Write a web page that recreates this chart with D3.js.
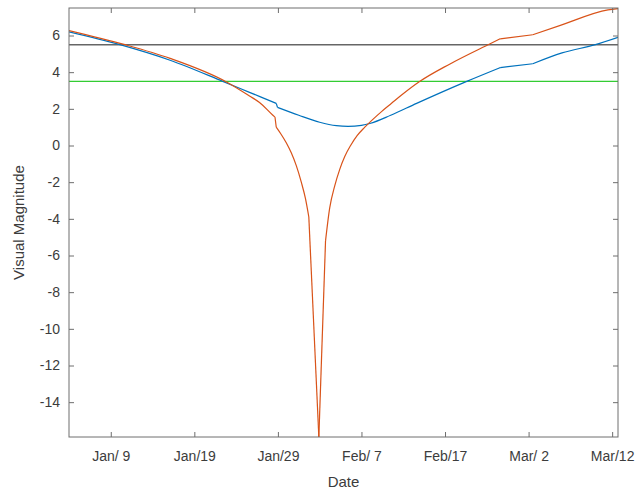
<!DOCTYPE html>
<html>
<head>
<meta charset="utf-8">
<script src="https://cdn.jsdelivr.net/npm/d3@7"></script>
<style>
  body { margin: 0; background: #fff; }
  text { font-family: "Liberation Sans", Arial, sans-serif; }
</style>
</head>
<body>
<div id="chart"></div>
<script>
'use strict';
// day index (1 = Jan 1), x axis ticks and their labels
var tickDays = [9, 19, 29, 39, 49, 59, 69];
var tickLabels = ['Jan/ 9', 'Jan/19', 'Jan/29', 'Feb/ 7', 'Feb/17', 'Mar/ 2', 'Mar/12'];
var yTicks = [-14, -12, -10, -8, -6, -4, -2, 0, 2, 4, 6];

var blueDays = [4.0, 10.1, 16.1, 22.4, 25.6, 28.8, 28.95, 31.5, 34.0, 36.0, 37.4, 39.0, 40.0, 42.5, 45.6, 51.6, 55.6, 59.5, 63.0, 67.0, 69.7];
var blueMag  = [6.2, 5.5, 4.65, 3.5, 2.9, 2.3, 2.08, 1.65, 1.27, 1.08, 1.04, 1.1, 1.2, 1.65, 2.3, 3.5, 4.25, 4.46, 5.05, 5.5, 5.9];
var blueKinks = [28.8, 28.95, 55.6, 59.5];

var orangeDays = [4.0, 10.7, 16.1, 22.9, 25.6, 26.8, 28.4, 28.65, 28.8, 29.4, 30.0, 30.6, 31.2, 31.8, 32.3, 32.7, 33.9,
                  34.7, 35.2, 35.8, 36.4, 37.0, 37.7, 38.5, 39.4, 40.3, 41.4, 42.6, 43.8, 46.0, 49.6, 54.4, 55.6, 59.5, 62.8, 68.5, 69.7];
var orangeMag  = [6.27, 5.5, 4.75, 3.45, 2.7, 2.35, 1.65, 1.55, 1.0, 0.6, 0.15, -0.4, -1.1, -2.0, -2.9, -3.9, -15.9,
                  -5.2, -3.4, -2.2, -1.3, -0.6, 0.0, 0.55, 1.0, 1.4, 1.85, 2.3, 2.75, 3.5, 4.45, 5.55, 5.82, 6.04, 6.55, 7.4, 7.47];
var orangeKinks = [28.65, 28.8, 32.7, 33.9, 34.7, 55.6, 59.5];

var limitGray = 5.5;
var limitGreen = 3.5;

var width = 637,
    height = 491,
    margin = {top: 8, right: 19, bottom: 54, left: 69};
var w = width - margin.left - margin.right,
    h = height - margin.top - margin.bottom;

var x = d3.scaleLinear().domain([4, 69.7]).range([0, w]);
var y = d3.scaleLinear().domain([-15.9, 7.5]).range([h, 0]);

var svg = d3.select('#chart').append('svg')
    .attr('width', width)
    .attr('height', height);
var g = svg.append('g')
    .attr('transform', 'translate(' + margin.left + ',' + margin.top + ')');

var axisColor = '#6e6e6e',
    textColor = '#3c3c3c';

g.append('defs').append('clipPath').attr('id', 'clip')
    .append('rect').attr('width', w).attr('height', h);

var plot = g.append('g').attr('clip-path', 'url(#clip)');

var line = d3.line()
    .curve(d3.curveMonotoneX)
    .x(function (d) { return x(d[0]); })
    .y(function (d) { return y(d[1]); });

// cut a series into pieces at its kinks, so each piece is smoothed on its own
var pieces = function (days, mags, kinks) {
    var out = [], cur = [];
    days.forEach(function (d, i) {
        cur.push([d, mags[i]]);
        if (kinks.indexOf(d) >= 0 && i > 0 && i < days.length - 1) {
            out.push(cur);
            cur = [[d, mags[i]]];
        }
    });
    out.push(cur);
    return out;
};

plot.append('line')
    .attr('x1', 0).attr('x2', w)
    .attr('y1', y(limitGray)).attr('y2', y(limitGray))
    .attr('stroke', '#666').attr('stroke-width', 1.5);

plot.append('line')
    .attr('x1', 0).attr('x2', w)
    .attr('y1', y(limitGreen)).attr('y2', y(limitGreen))
    .attr('stroke', '#33cc33').attr('stroke-width', 1.2);

var drawSeries = function (days, mags, kinks, color) {
    plot.append('g').selectAll('path')
        .data(pieces(days, mags, kinks))
        .enter().append('path')
        .attr('fill', 'none')
        .attr('stroke', color)
        .attr('stroke-width', 1.2)
        .attr('stroke-linejoin', 'round')
        .attr('d', line);
};

drawSeries(blueDays, blueMag, blueKinks, '#0072BD');
drawSeries(orangeDays, orangeMag, orangeKinks, '#D95319');

// axes, ticks pointing inward on all four sides
var styleAxis = function (sel) {
    sel.select('.domain').remove();
    sel.selectAll('line').attr('stroke', axisColor);
    sel.selectAll('text').attr('fill', textColor).style('font-size', '14px');
};

g.append('g')
    .attr('transform', 'translate(0,' + h + ')')
    .call(d3.axisBottom(x).tickValues(tickDays)
        .tickFormat(function (d, i) { return tickLabels[i]; })
        .tickSizeInner(-5).tickSizeOuter(0).tickPadding(14))
    .call(styleAxis);

g.append('g')
    .call(d3.axisTop(x).tickValues(tickDays).tickFormat('')
        .tickSizeInner(-5).tickSizeOuter(0))
    .call(styleAxis);

g.append('g')
    .call(d3.axisLeft(y).tickValues(yTicks)
        .tickFormat(function (d) { return String(d); })
        .tickSizeInner(-5).tickSizeOuter(0).tickPadding(9))
    .call(styleAxis);

g.append('g')
    .attr('transform', 'translate(' + w + ',0)')
    .call(d3.axisRight(y).tickValues(yTicks).tickFormat('')
        .tickSizeInner(-5).tickSizeOuter(0))
    .call(styleAxis);

g.append('rect')
    .attr('width', w).attr('height', h)
    .attr('fill', 'none')
    .attr('stroke', axisColor)
    .attr('stroke-width', 1);

g.append('text')
    .attr('x', w / 2)
    .attr('y', h + 50)
    .attr('text-anchor', 'middle')
    .attr('fill', textColor)
    .style('font-size', '15px')
    .text('Date');

g.append('text')
    .attr('transform', 'translate(' + (-45) + ',' + (h / 2) + ') rotate(-90)')
    .attr('text-anchor', 'middle')
    .attr('fill', textColor)
    .style('font-size', '15px')
    .text('Visual Magnitude');
</script>
</body>
</html>
